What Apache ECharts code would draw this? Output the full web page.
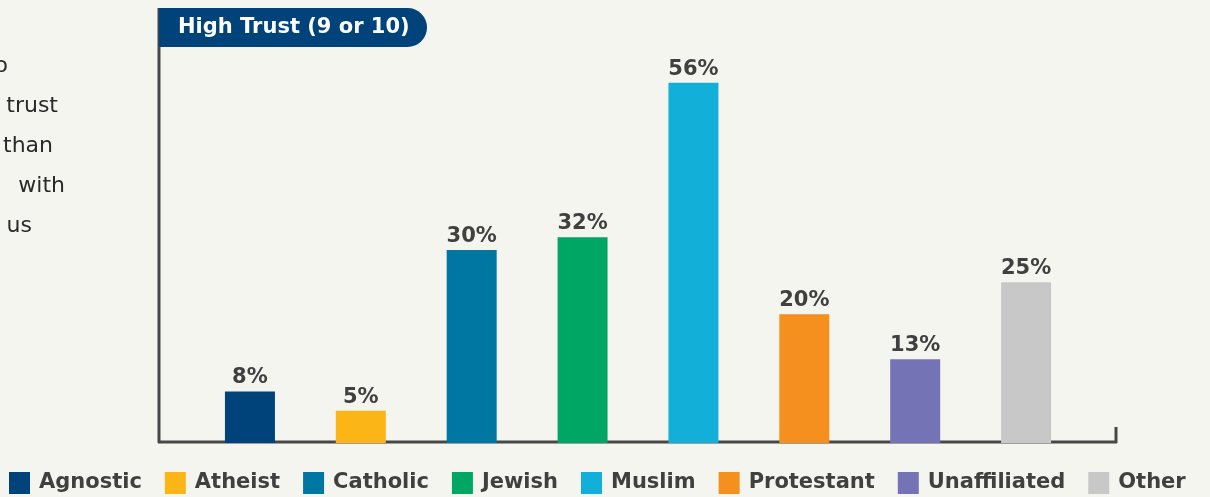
<!DOCTYPE html>
<html>
<head>
<meta charset="utf-8">
<script src="https://cdn.jsdelivr.net/npm/echarts@6/dist/echarts.min.js"></script>
<style>
    html, body {margin: 0; padding: 0; background: #f5f5f0;}
    #chart {width: 1210px; height: 497px;}
</style>
</head>
<body>
<div id="chart"></div>
<script>
let categories = ['Agnostic', 'Atheist', 'Catholic', 'Jewish', 'Muslim', 'Protestant', 'Unaffiliated', 'Other'];
let values = [8, 5, 30, 32, 56, 20, 13, 25];
let colors = ['#00427a', '#fbb516', '#0077a3', '#00a664', '#12b0d8', '#f5901e', '#7473b5', '#c8c8c8'];
let sideText = ['o', 'trust', 'than', 'with', 'us'];
let titleText = 'High Trust (9 or 10)';

let FONT = '"DejaVu Sans", sans-serif';
let AXIS = '#474747';

let myChart = echarts.init(document.getElementById('chart'), null, {renderer: 'canvas'});

// one series per group so the legend gets a swatch for each
let series = categories.map((name, i) => {
    return {
        name: name,
        type: 'bar',
        barWidth: 50,
        barGap: '-100%',
        itemStyle: {color: colors[i]},
        label: {
            show: true,
            position: 'top',
            distance: 3,
            formatter: '{c}%',
            color: '#404040',
            fontFamily: FONT,
            fontWeight: 'bold',
            fontSize: 21
        },
        data: categories.map((c, j) => j === i ? values[i] : null)
    }
});

let graphics = [
    {type: 'line', shape: {x1: 159, y1: 8, x2: 159, y2: 443}, style: {stroke: AXIS, lineWidth: 3}},
    {type: 'line', shape: {x1: 158, y1: 442, x2: 1117, y2: 442}, style: {stroke: AXIS, lineWidth: 3}},
    {type: 'line', shape: {x1: 1116, y1: 427, x2: 1116, y2: 443}, style: {stroke: AXIS, lineWidth: 3}},
    {type: 'rect', shape: {x: 159, y: 8, width: 268, height: 39, r: [0, 20, 20, 0]}, style: {fill: '#00427a'}},
    {type: 'text', x: 178, y: 28, style: {text: titleText, fill: '#fff', font: 'bold 21px ' + FONT, textVerticalAlign: 'middle'}}
];
let ends = [8, 58, 53, 65, 32];
sideText.forEach((t, i) => {
    graphics.push({
        type: 'text', x: ends[i], y: 66 + i * 40,
        style: {text: t, fill: '#2a2a2a', font: '22px ' + FONT, textAlign: 'right', textVerticalAlign: 'middle'}
    });
});

myChart.setOption({
    backgroundColor: '#f5f5f0',
    animation: false,
    grid: {left: 194.5, right: 128.5, top: 57, bottom: 54},
    legend: {
        left: 9,
        bottom: 3,
        padding: 0,
        icon: 'rect',
        itemWidth: 21,
        itemHeight: 22,
        itemGap: 23,
        textStyle: {color: '#404040', fontFamily: FONT, fontWeight: 'bold', fontSize: 21, padding: [0, 0, 0, 4]},
        data: categories
    },
    xAxis: {
        type: 'category',
        data: categories,
        axisLine: {show: false},
        axisTick: {show: false},
        axisLabel: {show: false}
    },
    yAxis: {
        type: 'value',
        min: 0,
        max: 60,
        show: false
    },
    graphic: graphics,
    series: series
});
</script>
</body>
</html>
